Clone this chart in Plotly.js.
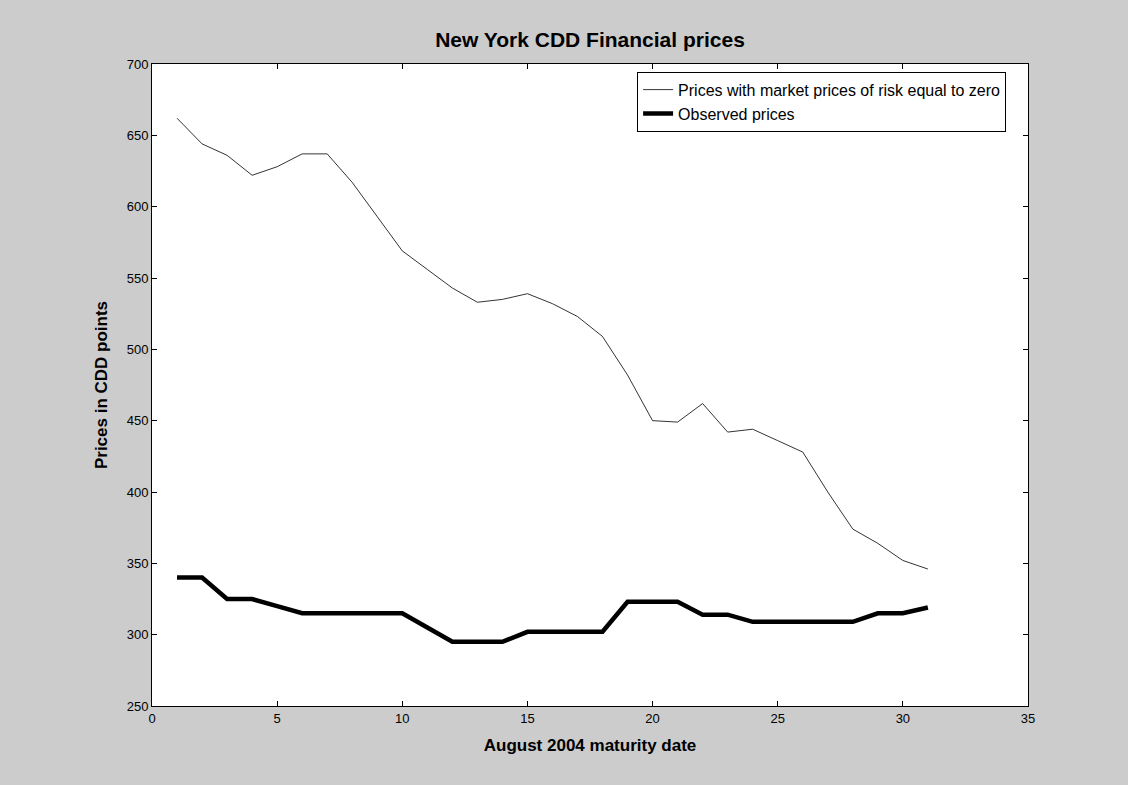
<!DOCTYPE html>
<html>
<head>
<meta charset="utf-8">
<script src="https://cdn.plot.ly/plotly-3.0.1.min.js"></script>
<style>
html,body{margin:0;padding:0;background:#cccccc;}
#chart{width:1128px;height:785px;}
</style>
</head>
<body>
<div id="chart"></div>
<script>
const days = [1,2,3,4,5,6,7,8,9,10,11,12,13,14,15,16,17,18,19,20,21,22,23,24,25,26,27,28,29,30,31];
const riskNeutralPrices = [662,644,636,622,628,637,637,617,593,569,556,543,533,535,539,532,523,509,482,450,449,462,442,444,436,428,400,374,364,352,346];
const observedPrices = [340,340,325,325,320,315,315,315,315,315,305,295,295,295,302,302,302,302,323,323,323,314,314,309,309,309,309,309,315,315,319];
const seriesNames = ["Prices with market prices of risk equal to zero","Observed prices"];

const traces = [
  {x: days, y: riskNeutralPrices, type: 'scatter', mode: 'lines', name: seriesNames[0],
   line: {color: '#000000', width: 0.8}},
  {x: days, y: observedPrices, type: 'scatter', mode: 'lines', name: seriesNames[1],
   line: {color: '#000000', width: 4.5}}
];

const font = "Arial, 'Liberation Sans', sans-serif";
const layout = {
  width: 1128, height: 785,
  paper_bgcolor: '#cccccc', plot_bgcolor: '#ffffff',
  margin: {l: 152, r: 100, t: 64, b: 79},
  font: {family: font, color: '#000000', size: 13},
  title: {text: '<b>New York CDD Financial prices</b>', font: {family: font, size: 21, color: '#000'},
          x: 0.5, xref: 'paper', xanchor: 'center', y: 0.949, yref: 'container', yanchor: 'middle'},
  showlegend: true,
  legend: {x: 0.975, xanchor: 'right', y: 0.988, yanchor: 'top', bgcolor: '#ffffff',
           bordercolor: '#000000', borderwidth: 1, font: {family: font, size: 16, color: '#000'},
           tracegroupgap: 0},
  xaxis: {range: [0, 35], dtick: 5, tick0: 0, ticks: 'inside', ticklen: 5, tickcolor: '#000',
          showline: true, linecolor: '#000', linewidth: 1, mirror: 'ticks', showgrid: false, zeroline: false,
          tickfont: {family: font, size: 13, color: '#000'},
          title: {text: '<b>August 2004 maturity date</b>', font: {family: font, size: 17, color: '#000'}, standoff: 14}},
  yaxis: {range: [250, 700], dtick: 50, tick0: 250, ticks: 'inside', ticklen: 5, tickcolor: '#000',
          showline: true, linecolor: '#000', linewidth: 1, mirror: 'ticks', showgrid: false, zeroline: false,
          tickfont: {family: font, size: 13, color: '#000'},
          title: {text: '<b>Prices in CDD points</b>', font: {family: font, size: 17, color: '#000'}, standoff: 14}}
};

Plotly.newPlot('chart', traces, layout, {displayModeBar: false, staticPlot: true});
</script>
</body>
</html>
